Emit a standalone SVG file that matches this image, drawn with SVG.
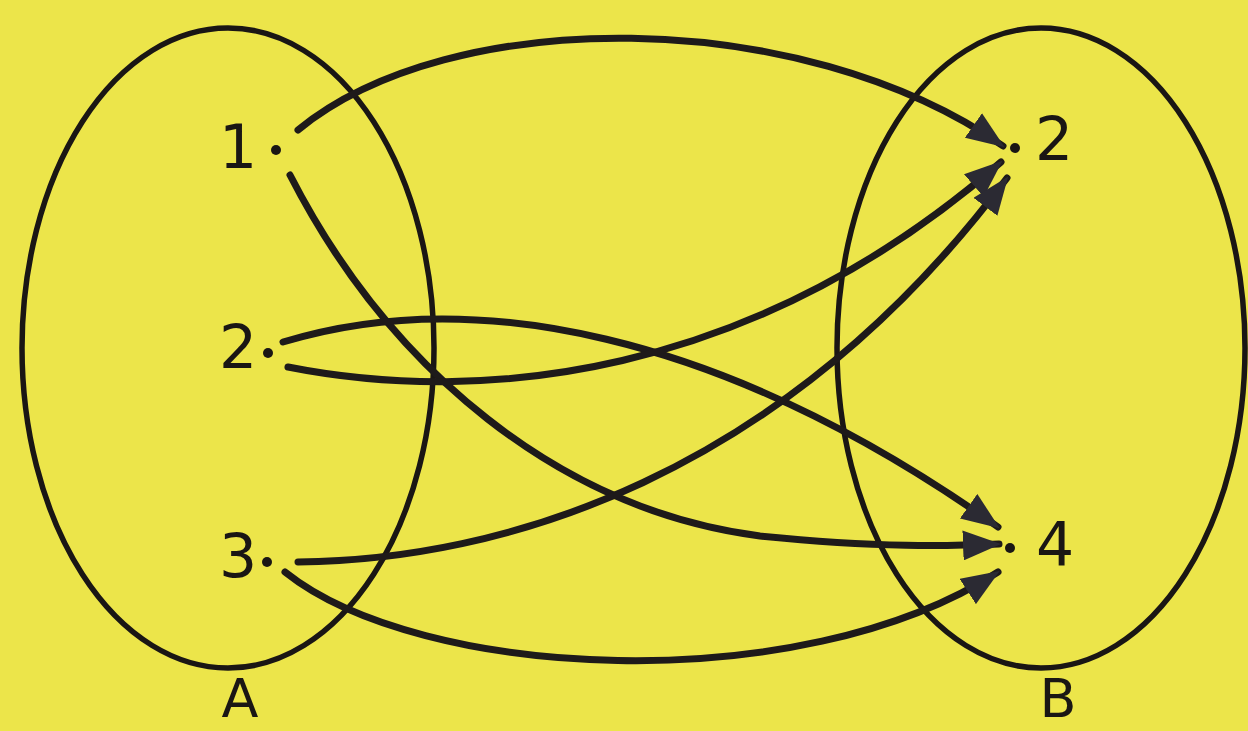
<svg xmlns="http://www.w3.org/2000/svg" width="1248" height="731" viewBox="0 0 1248 731">
<style>
.set{fill:none;stroke:#1a1614;stroke-width:5.5}
.lbl{font-family:"DejaVu Sans","Liberation Sans",sans-serif;font-size:60px;fill:#1a1614}
.sl{font-size:54px}
.dot{fill:#1a1614}
.arr{fill:none;stroke:#1e1a1a;stroke-width:7;stroke-linecap:round;marker-end:url(#ah)}
</style>
<defs>
<marker id="ah" viewBox="0 0 38 30" refX="36" refY="15" markerWidth="38" markerHeight="30" markerUnits="userSpaceOnUse" orient="auto">
<path d="M0,0 L38,15 L0,30 z" fill="#2b2a33"/>
</marker>
</defs>
<rect width="1248" height="731" fill="#ECE54A"/>
<g id="setA">
<ellipse class="set" cx="228" cy="348" rx="206" ry="320"/>
<text class="lbl sl" x="240" y="717" text-anchor="middle">A</text>
</g>
<g id="setB">
<ellipse class="set" cx="1041" cy="348" rx="204" ry="320"/>
<text class="lbl sl" x="1058" y="717" text-anchor="middle">B</text>
</g>
<g id="a1"><text class="lbl" x="238" y="168" text-anchor="middle">1</text><circle class="dot" cx="276" cy="150" r="5"/></g>
<g id="a2"><text class="lbl" x="238" y="368" text-anchor="middle">2</text><circle class="dot" cx="268" cy="353" r="5"/></g>
<g id="a3"><text class="lbl" x="238" y="577" text-anchor="middle">3</text><circle class="dot" cx="267" cy="562" r="5"/></g>
<g id="b2"><text class="lbl" x="1054" y="160" text-anchor="middle">2</text><circle class="dot" cx="1015" cy="148" r="5"/></g>
<g id="b4"><text class="lbl" x="1055" y="565" text-anchor="middle">4</text><circle class="dot" cx="1010" cy="548" r="5"/></g>
<g id="connectors">
<path class="arr" d="M298,130 C450,5 800,5 1003,146"/>
<path class="arr" d="M290,175 C390,370 560,510 760,536 C880,548 950,546 999,544"/>
<path class="arr" d="M283,342 C470,285 720,330 998,527"/>
<path class="arr" d="M288,367 C480,405 750,380 1001,162"/>
<path class="arr" d="M298,562 C500,560 780,480 1007,178"/>
<path class="arr" d="M285,572 C420,680 800,700 998,572"/>
</g>
</svg>
